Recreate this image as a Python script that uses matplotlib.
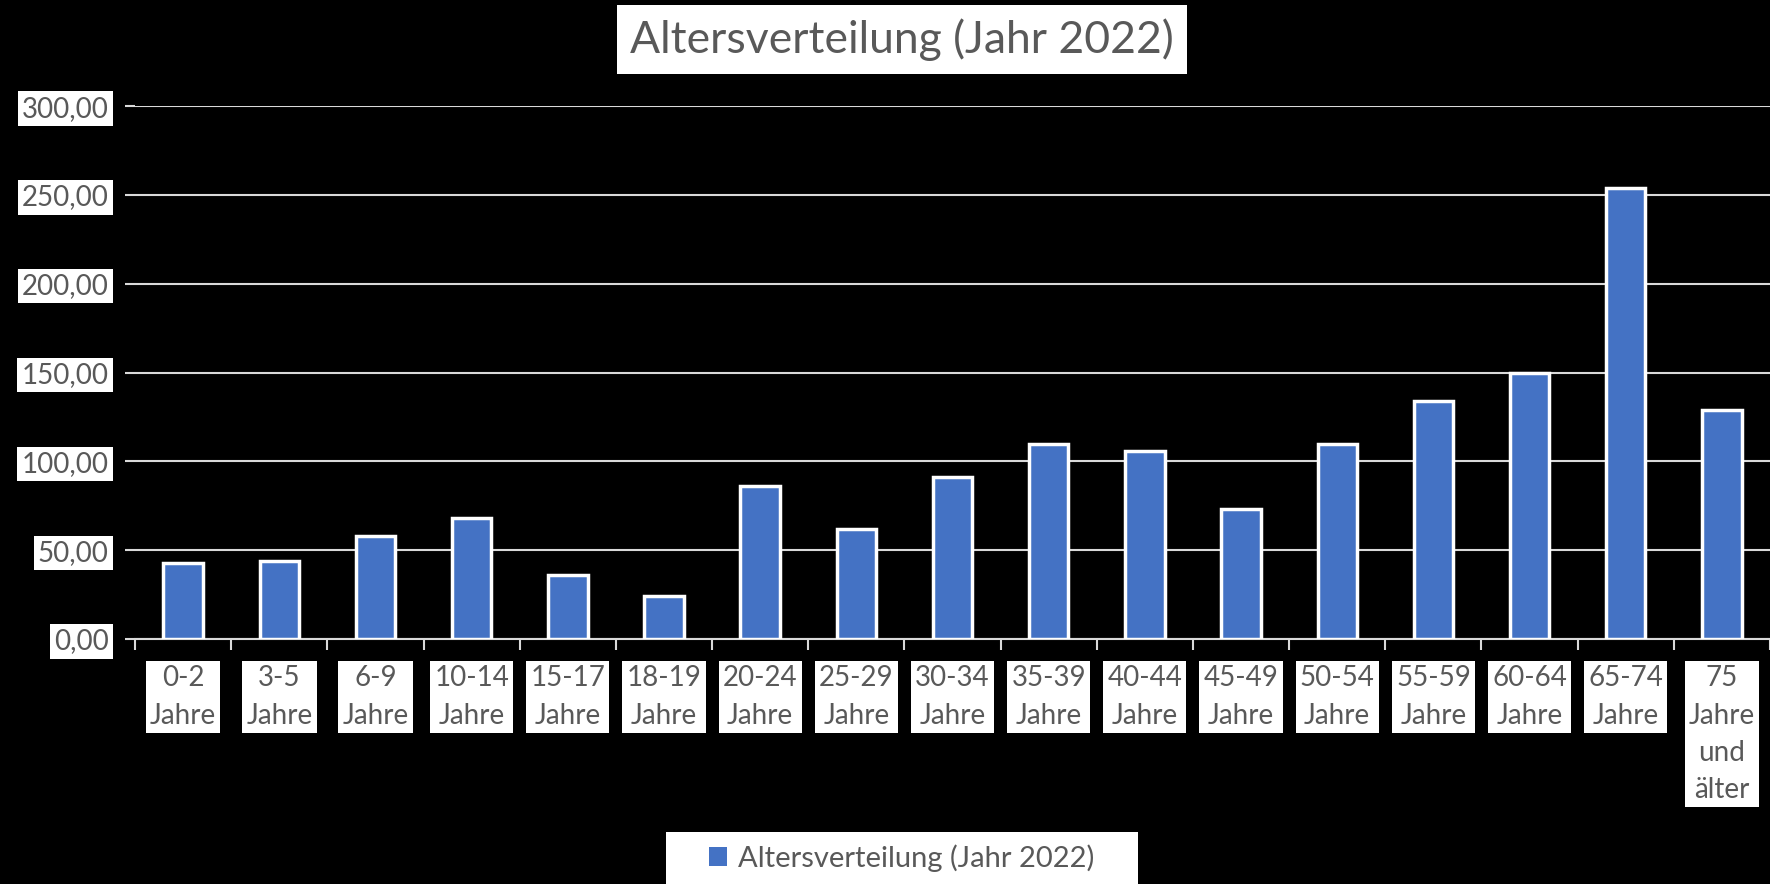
import matplotlib
matplotlib.use("Agg")
import matplotlib.pyplot as plt
from matplotlib.patches import Patch, Rectangle
import numpy as np

categories = ["0-2\nJahre", "3-5\nJahre", "6-9\nJahre", "10-14\nJahre", "15-17\nJahre",
              "18-19\nJahre", "20-24\nJahre", "25-29\nJahre", "30-34\nJahre", "35-39\nJahre",
              "40-44\nJahre", "45-49\nJahre", "50-54\nJahre", "55-59\nJahre", "60-64\nJahre",
              "65-74\nJahre", "75\nJahre\nund\nälter"]
values = [43, 44, 58, 68, 36, 24, 86, 62, 91, 110, 106, 73, 110, 134, 150, 254, 129]
y_ticks = [0, 50, 100, 150, 200, 250, 300]
title = "Altersverteilung (Jahr 2022)"
series_name = "Altersverteilung (Jahr 2022)"

plt.rcParams['font.family'] = ['Lato', 'DejaVu Sans']
TXT = "#595959"
BAR = "#4472C4"
GRID = "#D9D9D9"

fig = plt.figure(figsize=(17.7, 8.84), dpi=100, facecolor="black")
ax = fig.add_axes([0.0763, 0.2771, 0.9237, 0.6029])
ax.set_facecolor("black")

x = np.arange(len(values))
ax.bar(x, values, width=0.41, color=BAR, edgecolor="white", linewidth=2.5, zorder=3)

ax.set_xlim(-0.5, len(values) - 0.5)
ax.set_ylim(0, 300)
ax.set_yticks(y_ticks)
ax.set_yticklabels([f"{v:.2f}".replace(".", ",") for v in y_ticks])
ax.yaxis.grid(True, color=GRID, linewidth=1.5, zorder=0)
ax.set_axisbelow(True)

for s in ["top", "right", "left"]:
    ax.spines[s].set_visible(False)
ax.spines["bottom"].set_color(GRID)
ax.spines["bottom"].set_linewidth(1.5)

ax.set_xticks(x)
ax.set_xticklabels(categories)
ax.set_xticks(np.arange(-0.5, len(values) + 0.5, 1), minor=True)
ax.tick_params(axis="x", which="major", length=0, pad=19, labelsize=20, labelcolor=TXT)
ax.tick_params(axis="x", which="minor", length=8, width=1.5, color=GRID)
ax.tick_params(axis="y", length=7, width=1.5, color=GRID, pad=12, labelsize=20, labelcolor=TXT)

for lab in ax.get_xticklabels():
    lab.set_linespacing(1.53)
    lab.set_verticalalignment("top")
    lab.set_bbox(dict(facecolor="white", edgecolor="none", boxstyle="square,pad=0.15"))
for lab in ax.get_yticklabels():
    lab.set_bbox(dict(facecolor="white", edgecolor="none", boxstyle="square,pad=0.15"))

fig.text(0.5096, 0.955, title, ha="center", va="center", fontsize=32, color=TXT,
         bbox=dict(facecolor="white", edgecolor="none", boxstyle="square,pad=0.3"))

# legend background box
fig.patches.append(Rectangle((0.3763, 0.0), 0.2667, 0.0588, transform=fig.transFigure,
                             facecolor="white", edgecolor="none", zorder=0))
handle = Patch(facecolor=BAR, edgecolor="none")
leg = fig.legend([handle], [series_name], loc="center", bbox_to_anchor=(0.5096, 0.0294),
                 frameon=False, fontsize=21, handlelength=0.6, handleheight=0.6,
                 handletextpad=0.4, borderpad=0.0, borderaxespad=0)
for t in leg.get_texts():
    t.set_color(TXT)

fig.savefig("out.png", dpi=100, facecolor="black")
